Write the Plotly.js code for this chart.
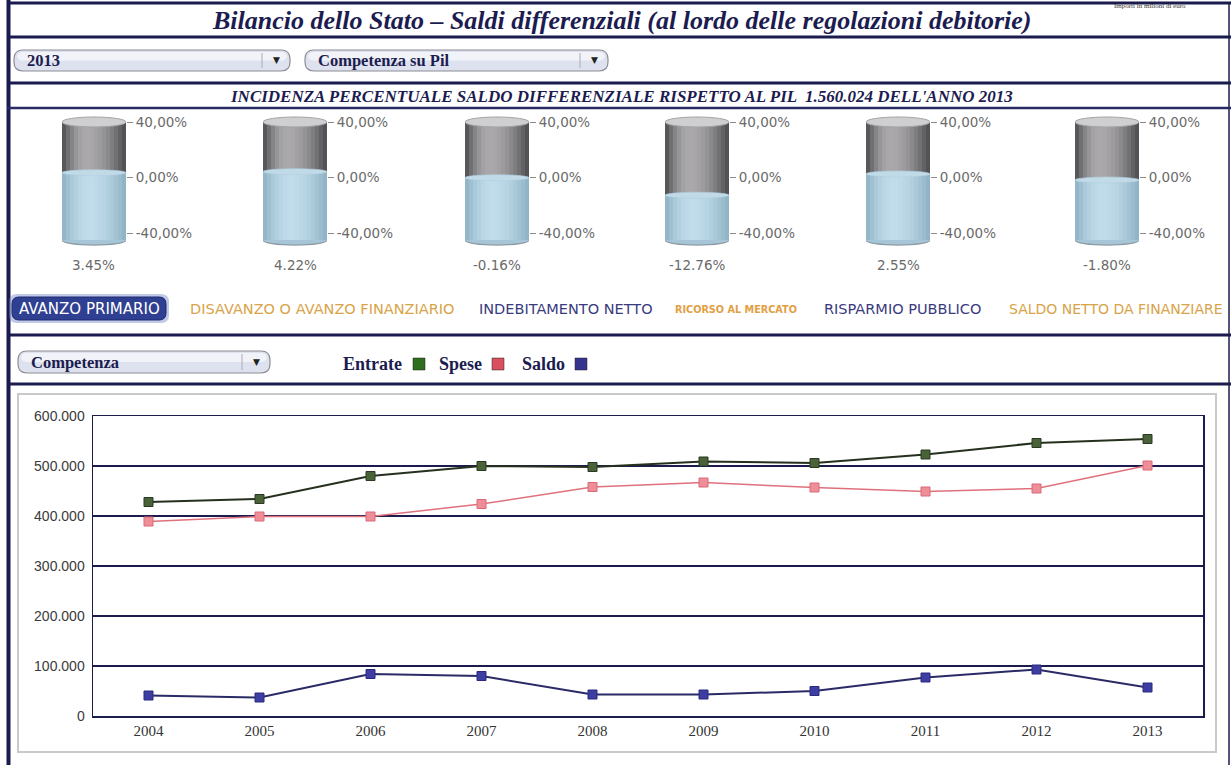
<!DOCTYPE html>
<html>
<head>
<meta charset="utf-8">
<script src="https://cdn.plot.ly/plotly-3.0.1.min.js"></script>
<style>
  html, body { margin: 0; padding: 0; background: #ffffff; }
  #chart { width: 1231px; height: 765px; }
</style>
</head>
<body>
<div id="chart"></div>
<script>
// ---------- DATA ----------
const years = ['2004', '2005', '2006', '2007', '2008', '2009', '2010', '2011', '2012', '2013'];
const entrate = [428000, 434000, 480000, 500000, 498000, 509000, 506000, 523000, 546000, 554000];
const spese   = [389000, 399000, 399000, 424000, 458000, 467000, 457000, 449000, 455000, 501000];
const saldo   = [41000, 37000, 84000, 80000, 43000, 43000, 50000, 77000, 93000, 57000];
const yTicks = [0, 100000, 200000, 300000, 400000, 500000, 600000];

const saldiNames = ['AVANZO PRIMARIO', 'DISAVANZO O AVANZO FINANZIARIO', 'INDEBITAMENTO NETTO',
                    'RICORSO AL MERCATO', 'RISPARMIO PUBBLICO', 'SALDO NETTO DA FINANZIARE'];
const incidenza = [3.45, 4.22, -0.16, -12.76, 2.55, -1.80];
const gaugeTicks = [-40, 0, 40];
const gaugeTickText = ['-40,00%', '0,00%', '40,00%'];

const mainTitle = 'Bilancio dello Stato \u2013 Saldi differenziali (al lordo delle regolazioni debitorie)';
const subTitle = "INCIDENZA PERCENTUALE SALDO DIFFERENZIALE RISPETTO AL PIL  1.560.024 DELL'ANNO 2013";
const selAnno = '2013';
const selVista = 'Competenza su Pil';
const selTipo = 'Competenza';
const legendNames = ['Entrate', 'Spese', 'Saldo'];

// ---------- LAYOUT HELPERS ----------
const W = 1231, H = 765;
const X = p => p / W;
const Y = p => 1 - p / H;
const NAVY = '#1b1b4e';

function roundRect(x0, y0, x1, y1, r) {
  const P = (x, y) => X(x).toFixed(5) + ',' + Y(y).toFixed(5);
  return 'M' + P(x0 + r, y0) + ' L' + P(x1 - r, y0) + ' Q' + P(x1, y0) + ' ' + P(x1, y0 + r) +
         ' L' + P(x1, y1 - r) + ' Q' + P(x1, y1) + ' ' + P(x1 - r, y1) +
         ' L' + P(x0 + r, y1) + ' Q' + P(x0, y1) + ' ' + P(x0, y1 - r) +
         ' L' + P(x0, y0 + r) + ' Q' + P(x0, y0) + ' ' + P(x0 + r, y0) + ' Z';
}
function hline(y, x0, x1, w, c) {
  return {type: 'line', xref: 'paper', yref: 'paper', x0: X(x0), x1: X(x1), y0: Y(y), y1: Y(y),
          line: {color: c || NAVY, width: w}};
}
function vline(x, y0, y1, w, c) {
  return {type: 'line', xref: 'paper', yref: 'paper', x0: X(x), x1: X(x), y0: Y(y0), y1: Y(y1),
          line: {color: c || NAVY, width: w}};
}
function txt(x, y, text, font, xanchor) {
  return {xref: 'paper', yref: 'paper', x: X(x), y: Y(y), text: text, showarrow: false,
          xanchor: xanchor || 'center', yanchor: 'middle', font: font};
}

const shapes = [];
const annotations = [];

// frame lines
shapes.push(vline(8.5, 0, 765, 4));
shapes.push(vline(1229, 3, 765, 1.5));
[3, 37, 83, 335, 384].forEach(y => shapes.push(hline(y, 7, 1231, 3)));
shapes.push(hline(108, 7, 1231, 2.5, '#2a2a66'));

// title rows
annotations.push(txt(1150, 0, 'Importi in milioni di euro',
  {family: 'Liberation Serif', size: 7, color: '#333'}));
annotations[0].yanchor = 'top';
annotations.push(txt(622, 20, '<b><i>' + mainTitle + '</i></b>',
  {family: 'Liberation Serif', size: 26, color: '#1c1c50'}));
annotations.push(txt(621, 96, '<b><i>' + subTitle + '</i></b>',
  {family: 'Liberation Serif', size: 17, color: '#1c1c50'}));

// dropdowns
function dropdown(x0, x1, y0, y1, label) {
  shapes.push({type: 'path', xref: 'paper', yref: 'paper', path: roundRect(x0, y0, x1, y1, 9),
               fillcolor: '#dde2ee', line: {color: '#8c8c96', width: 1.2}});
  shapes.push({type: 'path', xref: 'paper', yref: 'paper', path: roundRect(x0 + 3, y0 + 2, x1 - 3, (y0 + y1) / 2, 6),
               fillcolor: '#f1f3f8', line: {width: 0}});
  shapes.push(vline(x1 - 28, y0 + 3, y1 - 3, 1, '#a8acb8'));
  annotations.push(txt(x0 + 11, (y0 + y1) / 2 + 0.5, '<b>' + label + '</b>',
    {family: 'Liberation Serif', size: 16.5, color: '#1c1c50'}, 'left'));
  annotations.push(txt(x1 - 14, (y0 + y1) / 2, '\u25BC', {family: 'DejaVu Sans', size: 9, color: '#222'}));
}
dropdown(14, 290, 50, 71, selAnno);
dropdown(305, 608, 50, 71, selVista);
dropdown(18, 270, 351, 373, selTipo);

// nav tabs
const tabX = [89, 322, 566, 736, 902, 1116];
const tabColors = ['#ffffff', '#d9a347', '#3a3a7e', '#e2a043', '#3a3a7e', '#d9a347'];
const tabSizes = [15, 14.5, 14.5, 9.7, 14.5, 14];
shapes.push({type: 'path', xref: 'paper', yref: 'paper', path: roundRect(9, 294, 169, 323, 8),
             fillcolor: 'rgba(120,135,200,0.45)', line: {width: 0}});
shapes.push({type: 'path', xref: 'paper', yref: 'paper', path: roundRect(12, 297, 166, 320, 7),
             fillcolor: '#2f3f92', line: {color: '#1e2a70', width: 1}});
saldiNames.forEach((n, i) => {
  annotations.push(txt(tabX[i], 309, i === 3 ? '<b>' + n + '</b>' : n,
    {family: 'DejaVu Sans', size: tabSizes[i], color: tabColors[i]}));
});

// legend row
const legColors = ['#2f6e1e', '#d9505e', '#34348e'];
const legTextX = [341, 437, 520];
const legSqX = [413, 492, 575];
legendNames.forEach((n, i) => {
  annotations.push(txt(legTextX[i], 364, '<b>' + n + '</b>',
    {family: 'Liberation Serif', size: 18, color: '#1c1c50'}, 'left'));
  shapes.push({type: 'rect', xref: 'paper', yref: 'paper', x0: X(legSqX[i]), x1: X(legSqX[i] + 12),
               y0: Y(370), y1: Y(358), fillcolor: legColors[i], line: {color: '#222', width: 0.5}});
});

// chart box
shapes.push({type: 'rect', xref: 'paper', yref: 'paper', x0: X(18), x1: X(1216), y0: Y(752), y1: Y(394),
             fillcolor: 'rgba(0,0,0,0)', line: {color: '#c9c9c9', width: 2}, layer: 'below'});

// ---------- TRACES ----------
const traces = [
  {type: 'scatter', mode: 'lines+markers', x: years, y: entrate, name: legendNames[0],
   line: {color: '#26301f', width: 2},
   marker: {symbol: 'square', size: 9, color: '#4a6238', line: {color: '#2a3a22', width: 1}}},
  {type: 'scatter', mode: 'lines+markers', x: years, y: spese, name: legendNames[1],
   line: {color: '#e0707c', width: 1.5},
   marker: {symbol: 'square', size: 9, color: '#ee8e98', line: {color: '#dc6877', width: 1}}},
  {type: 'scatter', mode: 'lines+markers', x: years, y: saldo, name: legendNames[2],
   line: {color: '#2a2a66', width: 2},
   marker: {symbol: 'square', size: 9, color: '#3d3da2', line: {color: '#2a2a80', width: 1}}}
];

const layout = {
  width: W, height: H,
  margin: {l: 0, r: 0, t: 0, b: 0},
  paper_bgcolor: '#ffffff', plot_bgcolor: 'rgba(0,0,0,0)',
  showlegend: false,
  separators: ',.',
  barmode: 'overlay', bargap: 0,
  hovermode: false,
  xaxis: {type: 'category', domain: [X(93), X(1203)], range: [-0.5, 9.5],
          showgrid: false, zeroline: false, showline: true, mirror: true,
          linecolor: NAVY, linewidth: 1.5, ticks: '',
          tickfont: {family: 'Liberation Serif', size: 15, color: '#333'}},
  yaxis: {domain: [Y(716), Y(416)], range: [0, 600000], tickvals: yTicks, tickformat: ',d',
          showgrid: true, gridcolor: NAVY, gridwidth: 1.5, zeroline: false,
          showline: true, mirror: true, linecolor: NAVY, linewidth: 1.5, ticks: '',
          ticklabelstandoff: 4,
          tickfont: {family: 'Liberation Sans', size: 14, color: '#3a3a3a'}},
  shapes: shapes, annotations: annotations
};

// ---------- GAUGES (cylinders) ----------
const cylCX = [94, 295, 497, 697, 898, 1107];
const NS = 16;              // vertical shading slices
const BASE = -45;           // visual bottom of the cylinder
const TOP = 40;
const RY = 3.6;
function shade(dark, light, peak) {
  const out = [];
  for (let k = 0; k < NS; k++) {
    const t = (k + 0.5) / NS;
    const d = t < peak ? (peak - t) / peak : (t - peak) / (1 - peak);
    const s = Math.cos(d * Math.PI / 2 * 0.92);
    const c = dark.map((v, j) => Math.round(v + (light[j] - v) * s));
    out.push('rgb(' + c.join(',') + ')');
  }
  return out;
}
const grayCols = shade([62, 62, 66], [170, 168, 170], 0.38);
const blueCols = shade([134, 170, 190], [192, 220, 234], 0.42);
const slices = Array.from({length: NS}, (_, k) => k);

incidenza.forEach((v, i) => {
  const xa = 'x' + (i + 2), ya = 'y' + (i + 2);
  layout['xaxis' + (i + 2)] = {domain: [X(cylCX[i] - 32), X(cylCX[i] + 32)], range: [-0.5, NS - 0.5],
    visible: false, fixedrange: true};
  layout['yaxis' + (i + 2)] = {anchor: xa, side: 'right', domain: [Y(252), Y(112)],
    range: [-53.69, 47.21], tickvals: gaugeTicks, ticktext: gaugeTickText,
    ticks: 'outside', ticklen: 6, tickcolor: '#8a8a8a', tickwidth: 1,
    showgrid: false, zeroline: false, showline: false,
    tickfont: {family: 'DejaVu Sans', size: 13.5, color: '#6a6a6a'}};
  traces.push({type: 'bar', xaxis: xa, yaxis: ya, x: slices, base: BASE,
    y: slices.map(() => TOP - BASE), width: 1,
    marker: {color: grayCols, line: {width: 0}}});
  traces.push({type: 'bar', xaxis: xa, yaxis: ya, x: slices, base: BASE,
    y: slices.map(() => v - BASE), width: 1,
    marker: {color: blueCols, line: {width: 0}}});
  // bottom rim (behind body)
  shapes.push({type: 'circle', xref: xa, yref: ya, x0: -0.6, x1: NS - 0.4, y0: BASE - RY - 0.6, y1: BASE + RY,
    fillcolor: '#8d9ba4', line: {width: 0}, layer: 'below'});
  shapes.push({type: 'circle', xref: xa, yref: ya, x0: -0.5, x1: NS - 0.5, y0: BASE - RY + 0.4, y1: BASE + RY,
    fillcolor: '#a6c6d7', line: {width: 0}, layer: 'below'});
  // liquid surface
  shapes.push({type: 'circle', xref: xa, yref: ya, x0: -0.5, x1: NS - 0.5, y0: v - RY * 0.6, y1: v + RY * 0.6,
    fillcolor: '#c0dae8', line: {color: '#b2cfdd', width: 0.6}});
  // top opening
  shapes.push({type: 'circle', xref: xa, yref: ya, x0: -0.5, x1: NS - 0.5, y0: TOP - RY, y1: TOP + RY,
    fillcolor: '#cfcfd1', line: {color: '#a3a3a6', width: 1}});
  // value label
  annotations.push(txt(cylCX[i], 265, v.toFixed(2) + '%',
    {family: 'DejaVu Sans', size: 13.5, color: '#6a6a6a'}));
});

Plotly.newPlot('chart', traces, layout, {staticPlot: true, displayModeBar: false});
</script>
</body>
</html>
